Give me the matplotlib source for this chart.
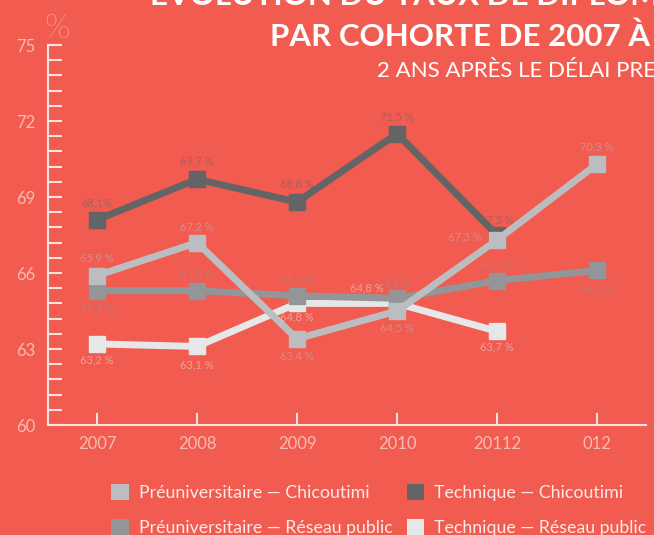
import matplotlib
matplotlib.use("Agg")
import matplotlib.pyplot as plt
from matplotlib.patches import Patch

# data
years = ["2007", "2008", "2009", "2010", "20112", "012"]
pre_chic = [65.9, 67.2, 63.4, 64.5, 67.3, 70.3]
tech_chic = [68.1, 69.7, 68.8, 71.5, 67.5]
pre_reseau = [65.3, 65.3, 65.1, 65.0, 65.7, 66.1]
tech_reseau = [63.2, 63.1, 64.8, 64.8, 63.7]

pre_chic_lbl = ["65,9 %", "67,2 %", "63,4 %", "64,5 %", "67,3 %", "70,3 %"]
tech_chic_lbl = ["68,1%", "69,7 %", "68,8 %", "71,5 %", "67,5 %"]
pre_reseau_lbl = ["65,3 %", "65,3 %", "65,1 %", "65 %", "65,7 %", "66,1 %"]
tech_reseau_lbl = ["63,2 %", "63,1 %", "64,8 %", "64,8 %", "63,7 %"]

# label offsets in pixels (dx, dy), per point
pre_chic_off = [(0, 18), (0, 16), (0, -17), (0, -17), (-32, 3), (0, 17)]
tech_chic_off = [(0, 17), (0, 18), (0, 18), (0, 17), (0, 15)]
pre_reseau_off = [(0, -17), (0, 18), (0, 17), (0, 14), (0, 16), (0, -18)]
tech_reseau_off = [(0, -16), (0, -18), (0, -14), (-30, 15), (0, -16)]

bg = "#f15b50"
c_pre_chic = "#bcbdc0"
c_tech_chic = "#636466"
c_pre_reseau = "#939598"
c_tech_reseau = "#e6e7e8"
axis_col = "#fbe3e0"
tick_txt = "#f9bbb4"

plt.rcParams["font.family"] = ["Lato", "DejaVu Sans"]

fig = plt.figure(figsize=(6.54, 5.35), dpi=100, facecolor=bg)
ax = fig.add_axes([48/654, 110/535, 598/654, 380/535])
ax.set_facecolor(bg)

series = [
    (tech_reseau, tech_reseau_lbl, tech_reseau_off, c_tech_reseau, 1),
    (pre_reseau, pre_reseau_lbl, pre_reseau_off, c_pre_reseau, 2),
    (tech_chic, tech_chic_lbl, tech_chic_off, c_tech_chic, 3),
    (pre_chic, pre_chic_lbl, pre_chic_off, c_pre_chic, 4),
]

for vals, lbls, offs, col, z in series:
    xs = list(range(len(vals)))
    ax.plot(xs, vals, color=col, lw=5, marker="s", ms=12, zorder=z,
            solid_joinstyle="miter", clip_on=False)
    for x, v, t, (dx, dy) in zip(xs, vals, lbls, offs):
        ax.annotate(t, (x, v), xytext=(dx, dy), textcoords="offset pixels",
                    ha="center", va="center", fontsize=8, color=col,
                    alpha=0.5, zorder=10)

ax.set_xlim(-0.49, 5.49)
ax.set_ylim(60, 75)
ax.set_xticks(range(len(years)))
ax.set_xticklabels(years)
ax.set_yticks([60, 63, 66, 69, 72, 75])
ax.set_yticks([60 + 0.6 * i for i in range(26)], minor=True)

for s in ["top", "right"]:
    ax.spines[s].set_visible(False)
for s in ["left", "bottom"]:
    ax.spines[s].set_color(axis_col)
    ax.spines[s].set_linewidth(1.5)

ax.tick_params(axis="y", which="both", direction="in", length=10, width=1.5,
               color=axis_col, labelcolor=tick_txt, labelsize=12, pad=9)
ax.tick_params(axis="x", direction="in", length=9, width=1.5,
               color=axis_col, labelcolor=tick_txt, labelsize=12, pad=8)

fig.text(44/654, 1 - 38/535, "%", fontsize=24, color=axis_col,
         fontweight="light", ha="left", va="baseline")

# titles, clipped by the figure edge as in the original
fig.text(150/654, 1 - 5/535, "ÉVOLUTION DU TAUX DE DIPLOMATION", fontsize=22.5,
         color="white", fontweight="bold", ha="left", va="baseline")
fig.text(270/654, 1 - 46/535, "PAR COHORTE DE 2007 À 2012", fontsize=22.5,
         color="white", fontweight="bold", ha="left", va="baseline")
fig.text(377/654, 1 - 77/535, "2 ANS APRÈS LE DÉLAI PRESCRIT", fontsize=16,
         color="white", ha="left", va="baseline")

handles = [Patch(facecolor=c_pre_chic), Patch(facecolor=c_pre_reseau),
           Patch(facecolor=c_tech_chic), Patch(facecolor=c_tech_reseau)]
names = ["Préuniversitaire — Chicoutimi", "Préuniversitaire — Réseau public",
         "Technique — Chicoutimi", "Technique — Réseau public"]
fig.legend(handles, names, ncol=2, loc="upper left",
           bbox_to_anchor=(95/654, 1 - 468/535), frameon=False,
           fontsize=12.8, labelcolor="#fde9e6", handlelength=1.0,
           handleheight=1.0, handletextpad=0.55, labelspacing=1.0,
           columnspacing=0.8)

fig.savefig("out.png", facecolor=bg)
